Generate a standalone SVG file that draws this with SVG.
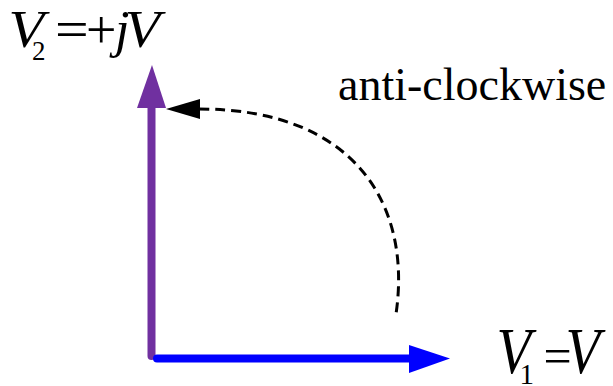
<svg xmlns="http://www.w3.org/2000/svg" width="613" height="386" viewBox="0 0 613 386">
<style>
.t{font-family:"Liberation Serif","Times New Roman",serif;fill:#000}
.i{font-style:italic}
.vec{fill:none;stroke-linecap:round}
.dash{fill:none;stroke:#000;stroke-width:3;stroke-dasharray:10 6}
</style>
<rect width="613" height="386" fill="#fff"/>
<g id="connectors">
<g id="v2-vector">
<line class="vec" x1="151.5" y1="356" x2="151.5" y2="104" stroke="#7030A0" stroke-width="8"/>
<polygon points="152,65 137,108 166,108" fill="#7030A0"/>
</g>
<g id="v1-vector">
<line class="vec" x1="157" y1="358.5" x2="412" y2="358.5" stroke="#0000FF" stroke-width="8"/>
<polygon points="450,358.5 409,345 409,373" fill="#0000FF"/>
</g>
<g id="rotation-arc">
<path class="dash" d="M 199,109 C 355,109 412,205 396,314"/>
<polygon points="166,109 200,99 200,119" fill="#000"/>
</g>
</g>
<g id="label-v2">
<text class="t i" x="8.4" y="47" font-size="52" textLength="35.6" lengthAdjust="spacingAndGlyphs">V</text>
<text class="t" x="32" y="60" font-size="27">2</text>
<text class="t" x="55" y="47" font-size="52" textLength="33.7" lengthAdjust="spacingAndGlyphs">=</text>
<text class="t" x="86" y="48" font-size="54">+</text>
<text class="t i" x="115" y="47" font-size="52">j</text>
<text class="t i" x="124.5" y="47" font-size="52" textLength="35.6" lengthAdjust="spacingAndGlyphs">V</text>
</g>
<g id="label-rotation">
<text class="t" x="338" y="100" font-size="46">anti-clockwise</text>
</g>
<g id="label-v1">
<text class="t i" x="496.6" y="373" font-size="65" textLength="34.6" lengthAdjust="spacingAndGlyphs">V</text>
<text class="t" x="519.5" y="384" font-size="29">1</text>
<text class="t" x="543.5" y="373" font-size="50">=</text>
<text class="t i" x="565.6" y="373" font-size="65" textLength="34.6" lengthAdjust="spacingAndGlyphs">V</text>
</g>
</svg>
